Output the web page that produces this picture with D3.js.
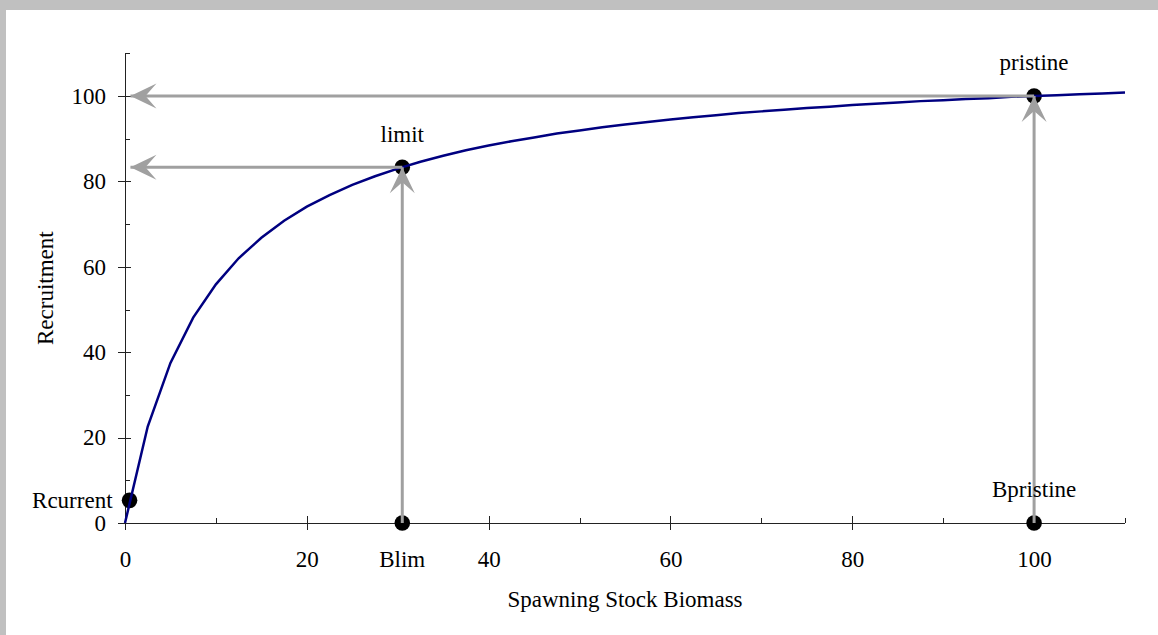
<!DOCTYPE html>
<meta charset="utf-8">
<style>
body { margin: 0; background: #c0c0c0; }
svg { display: block; }
text { font-family: "Liberation Serif", "Times New Roman", serif; font-size: 23px; fill: #000; }
.axis path, .axis line { stroke: #222; stroke-width: 1px; shape-rendering: crispEdges; }
.axis text { font-family: "Liberation Serif", serif; font-size: 23px; }
.curve { fill: none; stroke: #000080; stroke-width: 2.5px; }
.arrow { stroke: #a0a0a0; stroke-width: 3px; fill: none; }
</style>
<svg width="1158" height="635"></svg>
<script src="https://d3js.org/d3.v7.min.js"></script>
<script>
// stock-recruitment curve
var ssb = [0, 2.5, 5, 7.5, 10, 12.5, 15, 17.5, 20, 22.5, 25, 27.5, 30, 32.5, 35, 37.5,
           40, 42.5, 45, 47.5, 50, 52.5, 55, 57.5, 60, 62.5, 65, 67.5, 70, 72.5, 75,
           77.5, 80, 82.5, 85, 87.5, 90, 92.5, 95, 97.5, 100, 102.5, 105, 107.5, 110];
var recruit = [0, 22.6, 37.5, 48.1, 55.9, 62.0, 66.8, 70.8, 74.1, 76.8, 79.2, 81.2, 83.0, 84.6, 86.0, 87.3,
               88.4, 89.4, 90.3, 91.2, 91.9, 92.7, 93.3, 93.9, 94.5, 95.0, 95.5, 96.0, 96.4, 96.8, 97.2,
               97.5, 97.9, 98.2, 98.5, 98.8, 99.0, 99.3, 99.5, 99.8, 100, 100.2, 100.4, 100.6, 100.8];

// reference points
var pointNames = ["Rcurrent", "limit", "pristine", "Blim", "Bpristine"];
var pointX = [0.5, 30.5, 100, 30.5, 100];
var pointY = [5.3, 83.3, 100, 0, 0];

// arrows: from -> to
var arrowFromX = [100, 30.5, 30.5, 100];
var arrowFromY = [100, 83.3, 0, 0];
var arrowToX = [0.6, 0.6, 30.5, 100];
var arrowToY = [100, 83.3, 83.3, 100];

var xMajor = [0, 20, 40, 60, 80, 100];
var xMinor = [10, 30, 50, 70, 90, 110];
var yMajor = [0, 20, 40, 60, 80, 100];
var yMinor = [10, 30, 50, 70, 90, 110];

var svg = d3.select("svg");

// white panel inside grey frame
svg.append("rect")
    .attr("x", 6).attr("y", 10)
    .attr("width", 1152).attr("height", 625)
    .attr("fill", "#fff");

var x = d3.scaleLinear().domain([0, 110]).range([125, 1125]);
var y = d3.scaleLinear().domain([0, 110]).range([523, 53.3]);

// arrow head marker
svg.append("defs").append("marker")
    .attr("id", "head")
    .attr("markerUnits", "userSpaceOnUse")
    .attr("viewBox", "-30 -15 32 30")
    .attr("markerWidth", 32).attr("markerHeight", 30)
    .attr("refX", 0).attr("refY", 0)
    .attr("orient", "auto")
  .append("path")
    .attr("d", "M0,0L-26,-12.5L-15,0L-26,12.5Z")
    .attr("fill", "#a0a0a0");

// x axis
var xAxis = svg.append("g")
    .attr("class", "axis")
    .attr("transform", "translate(0," + y(0) + ")")
    .call(d3.axisBottom(x).tickValues(xMajor).tickSize(7).tickSizeOuter(0).tickFormat(d3.format("d")));
xAxis.selectAll(".tick line").attr("y1", -7);
xAxis.selectAll(".tick text").attr("y", 44).attr("dy", 0);
xAxis.select(".domain").attr("d", "M" + (x(0) - 7) + ",0.5H" + x(110));
svg.append("g")
    .attr("class", "axis")
    .attr("transform", "translate(0," + y(0) + ")")
    .call(d3.axisTop(x).tickValues(xMinor).tickSize(5).tickSizeOuter(0).tickFormat(""))
    .select(".domain").remove();

// y axis
var yAxis = svg.append("g")
    .attr("class", "axis")
    .attr("transform", "translate(" + x(0) + ",0)")
    .call(d3.axisLeft(y).tickValues(yMajor).tickSize(7).tickSizeOuter(0).tickPadding(12).tickFormat(d3.format("d")));
yAxis.selectAll(".tick line").attr("x1", 6);
yAxis.selectAll(".tick text").attr("dy", "0.32em");
svg.append("g")
    .attr("class", "axis")
    .attr("transform", "translate(" + x(0) + ",0)")
    .call(d3.axisRight(y).tickValues(yMinor).tickSize(5).tickSizeOuter(0).tickFormat(""))
    .select(".domain").remove();

// dots
svg.append("g").selectAll("circle")
    .data(pointNames)
    .enter().append("circle")
    .attr("cx", function(d, i) { return x(pointX[i]); })
    .attr("cy", function(d, i) { return y(pointY[i]); })
    .attr("r", 7.8)
    .attr("fill", "#000");

// curve
var line = d3.line()
    .x(function(d, i) { return x(ssb[i]); })
    .y(function(d) { return y(d); });
svg.append("path")
    .datum(recruit)
    .attr("class", "curve")
    .attr("d", line);

// arrows
svg.append("g").selectAll("line")
    .data(arrowFromX)
    .enter().append("line")
    .attr("class", "arrow")
    .attr("x1", function(d, i) { return x(arrowFromX[i]); })
    .attr("y1", function(d, i) { return y(arrowFromY[i]); })
    .attr("x2", function(d, i) { return x(arrowToX[i]); })
    .attr("y2", function(d, i) { return y(arrowToY[i]); })
    .attr("marker-end", "url(#head)");

// point labels
svg.append("text").attr("x", x(pointX[0]) - 17).attr("y", y(pointY[0]))
    .attr("dy", "0.32em").attr("text-anchor", "end").text(pointNames[0]);
svg.append("text").attr("x", x(pointX[1])).attr("y", y(pointY[1]) - 25)
    .attr("text-anchor", "middle").text(pointNames[1]);
svg.append("text").attr("x", x(pointX[2])).attr("y", y(pointY[2]) - 26)
    .attr("text-anchor", "middle").text(pointNames[2]);
svg.append("text").attr("x", x(pointX[3])).attr("y", y(0) + 44)
    .attr("text-anchor", "middle").text(pointNames[3]);
svg.append("text").attr("x", x(pointX[4])).attr("y", y(pointY[4]) - 26)
    .attr("text-anchor", "middle").text(pointNames[4]);

// axis titles
svg.append("text")
    .attr("x", (x(0) + x(110)) / 2).attr("y", 607)
    .attr("text-anchor", "middle")
    .text("Spawning Stock Biomass");
svg.append("text")
    .attr("transform", "translate(53," + (y(0) + y(110)) / 2 + ") rotate(-90)")
    .attr("text-anchor", "middle")
    .text("Recruitment");
</script>
